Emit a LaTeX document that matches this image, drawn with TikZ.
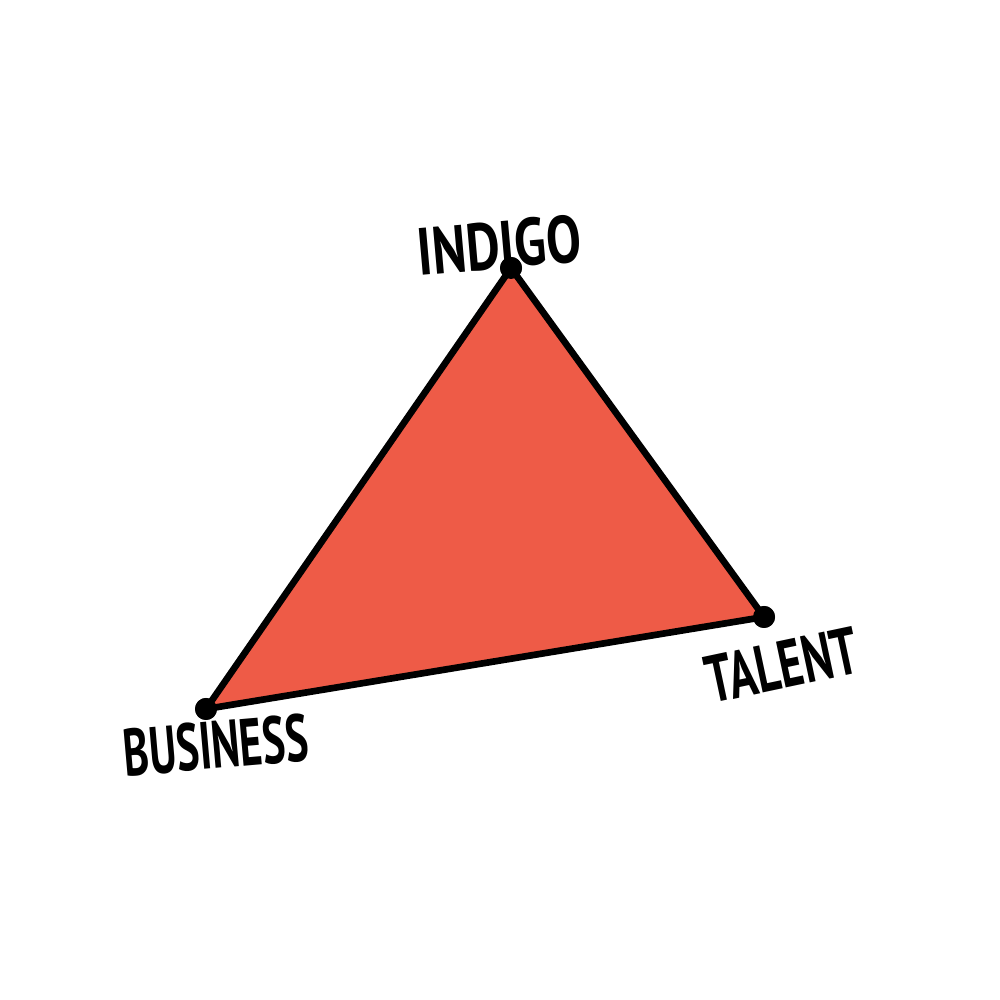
\documentclass[tikz,border=0pt]{standalone}
\usepackage{fontspec}
\newfontfamily\handfont{PT Sans Bold}
\usetikzlibrary{positioning}
\definecolor{redfill}{HTML}{EE5B47}

\begin{document}
\begin{tikzpicture}[corner/.style={circle,fill=black,inner sep=0pt,minimum size=0.22cm},
	lbl/.style={font=\handfont\addfontfeature{FakeStretch=#1}\fontsize{19}{19}\selectfont,inner sep=0pt}]

\useasboundingbox (0,0) rectangle (10,10);

\node[corner] (indigo)   at (5.11,7.32) {};
 \node[corner] (talent)   at (7.64,3.83) {};
	\node[corner] (business) at (2.06,2.91) {};

\fill[redfill] (indigo.center) -- (talent.center) -- (business.center) -- cycle;
\draw[line width=1.9pt,line join=round] (indigo.center) -- (talent.center) -- (business.center) -- cycle;
\node[corner] at (indigo) {};
\node[corner] at (talent) {};
\node[corner] at (business) {};

\node[lbl=0.78,rotate=5]  (indigolbl)   at (4.99,7.55) {INDIGO};
\node[lbl=0.69,rotate=12] (talentlbl)   at (7.82,3.35) {TALENT};
\node[lbl=0.65,rotate=5]  (businesslbl) at (2.16,2.55) {BUSINESS};
\end{tikzpicture}
\end{document}
